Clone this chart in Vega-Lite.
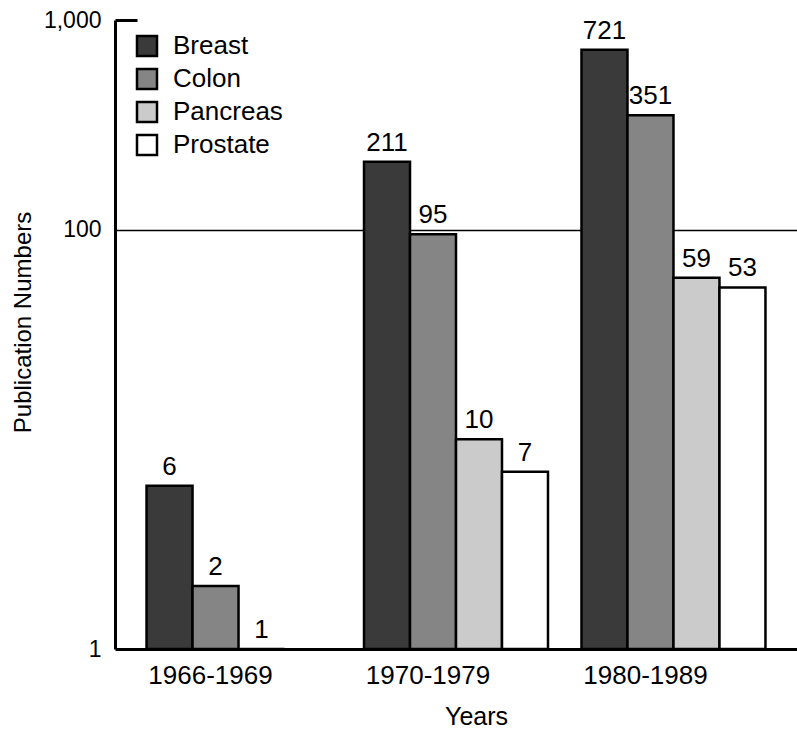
{
  "$schema": "https://vega.github.io/schema/vega-lite/v6.json",
  "autosize": {"type": "none"},
  "width": 682,
  "height": 629,
  "padding": {"left": 115, "top": 20, "right": 0, "bottom": 81},
  "background": "white",
  "config": {
    "view": {"stroke": null},
    "font": "Liberation Sans",
    "text": {"font": "Liberation Sans"}
  },
  "data": {
    "values": [
      {"period": "1966-1969", "cancer": "Breast", "count": 6},
      {"period": "1966-1969", "cancer": "Colon", "count": 2},
      {"period": "1966-1969", "cancer": "Pancreas", "count": 1},
      {"period": "1970-1979", "cancer": "Breast", "count": 211},
      {"period": "1970-1979", "cancer": "Colon", "count": 95},
      {"period": "1970-1979", "cancer": "Pancreas", "count": 10},
      {"period": "1970-1979", "cancer": "Prostate", "count": 7},
      {"period": "1980-1989", "cancer": "Breast", "count": 721},
      {"period": "1980-1989", "cancer": "Colon", "count": 351},
      {"period": "1980-1989", "cancer": "Pancreas", "count": 59},
      {"period": "1980-1989", "cancer": "Prostate", "count": 53}
    ]
  },
  "encoding": {
    "x": {
      "field": "period",
      "type": "nominal",
      "sort": null,
      "scale": {"paddingInner": 0.154, "paddingOuter": 0.145},
      "axis": {
        "title": "Years",
        "titleFontSize": 25,
        "titleFontWeight": "normal",
        "titleColor": "black",
        "titleX": 361,
        "titleY": 67,
        "titleBaseline": "middle",
        "titleAlign": "center",
        "labelAngle": 0,
        "labelFontSize": 26,
        "labelColor": "black",
        "labelPadding": 13,
        "labelOffset": -28,
        "ticks": false,
        "domainColor": "black",
        "domainWidth": 3
      }
    },
    "xOffset": {
      "field": "cancer",
      "type": "nominal",
      "scale": {"domain": ["Breast", "Colon", "Pancreas", "Prostate"], "paddingInner": 0, "paddingOuter": 0}
    },
    "y": {
      "field": "count",
      "type": "quantitative",
      "scale": {"type": "log", "domain": [1, 1000], "nice": false},
      "axis": {
        "title": "Publication Numbers",
        "titleFontSize": 24,
        "titleFontWeight": "normal",
        "titleColor": "black",
        "titleAngle": -90,
        "titleX": -92,
        "titleY": 302,
        "titleAlign": "center",
        "titleBaseline": "middle",
        "values": [1, 100, 1000],
        "format": ",",
        "labelFontSize": 23,
        "labelColor": "black",
        "labelPadding": {"condition": {"test": "datum.value == 1000", "value": 36}, "value": 14},
        "domainColor": "black",
        "domainWidth": 3,
        "ticks": true,
        "tickColor": "black",
        "tickWidth": 3,
        "tickSize": {"condition": {"test": "datum.value == 1000", "value": -22}, "value": 0},
        "grid": true,
        "gridColor": "black",
        "gridWidth": 1.5,
        "gridOpacity": {"condition": {"test": "datum.value == 100", "value": 1}, "value": 0}
      }
    }
  },
  "layer": [
    {
      "mark": {"type": "bar", "stroke": "black", "strokeWidth": 2.5},
      "encoding": {
        "y2": {"datum": 1},
        "fill": {
          "field": "cancer",
          "type": "nominal",
          "scale": {
            "domain": ["Breast", "Colon", "Pancreas", "Prostate"],
            "range": ["#3a3a3a", "#858585", "#cbcbcb", "#ffffff"]
          },
          "legend": {
            "title": null,
            "orient": "none",
            "legendX": 19,
            "legendY": 13,
            "symbolType": "square",
            "symbolSize": 400,
            "symbolStrokeColor": "black",
            "symbolStrokeWidth": 2.5,
            "symbolOpacity": 1,
            "labelFontSize": 26,
            "labelColor": "black",
            "labelOffset": 13,
            "rowPadding": 3
          }
        }
      }
    },
    {
      "mark": {"type": "text", "baseline": "bottom", "dy": -6, "fontSize": 26, "color": "black"},
      "encoding": {
        "text": {"field": "count", "type": "quantitative"}
      }
    }
  ]
}
